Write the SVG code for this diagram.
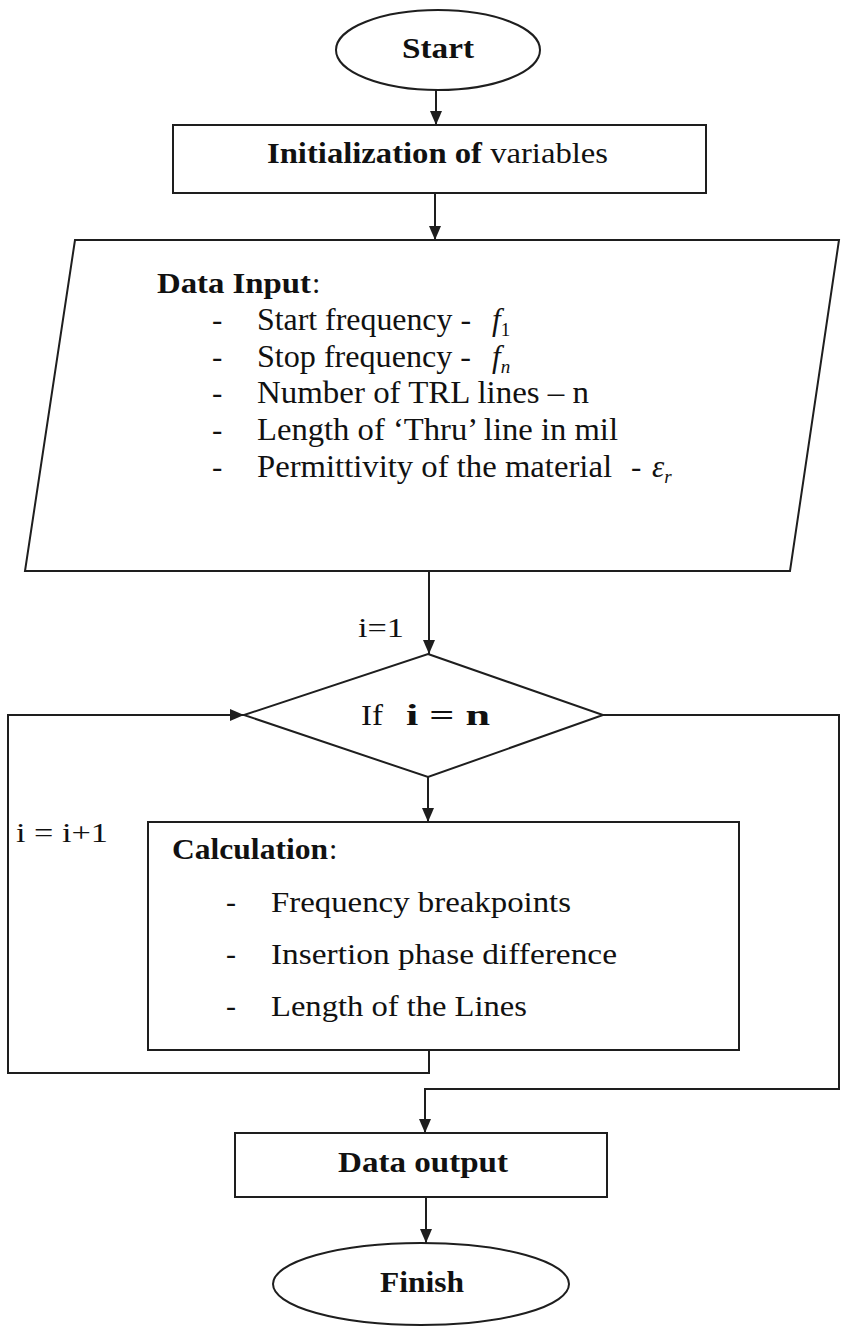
<svg xmlns="http://www.w3.org/2000/svg" width="849" height="1332" viewBox="0 0 849 1332">
  <style>
    .shape { fill: #ffffff; stroke: #1e1e1e; stroke-width: 2; }
    .wire { fill: none; stroke: #1e1e1e; stroke-width: 2; }
    .txt { font-family: "Liberation Serif", "Times New Roman", serif; font-size: 30px; fill: #111111; }
    .sm { font-size: 28px; }
    .md { font-size: 31px; }
    .b { font-weight: bold; }
    .it { font-style: italic; }
  </style>
  <defs>
    <marker id="arrow" markerUnits="userSpaceOnUse" markerWidth="14" markerHeight="14" viewBox="0 0 14 14" refX="14" refY="7" orient="auto">
      <path d="M0,1 L14,7 L0,13 z" fill="#1e1e1e"/>
    </marker>
  </defs>

  <rect width="849" height="1332" fill="#ffffff"/>

  <!-- connectors -->
  <g id="connectors">
    <line class="wire" x1="436" y1="90" x2="436" y2="125" marker-end="url(#arrow)"/>
    <line class="wire" x1="435" y1="193" x2="435" y2="240" marker-end="url(#arrow)"/>
    <line class="wire" x1="429" y1="571" x2="429" y2="654" marker-end="url(#arrow)"/>
    <line class="wire" x1="428" y1="777" x2="428" y2="822" marker-end="url(#arrow)"/>
    <!-- loop back: i = i+1 -->
    <polyline class="wire" points="429,1050 429,1073 8,1073 8,715 244,715" marker-end="url(#arrow)"/>
    <!-- exit when i = n -->
    <polyline class="wire" points="603,715 839,715 839,1089 425,1089 425,1133" marker-end="url(#arrow)"/>
    <line class="wire" x1="426" y1="1197" x2="426" y2="1243" marker-end="url(#arrow)"/>
    <text class="txt sm" x="358" y="637" textLength="46" lengthAdjust="spacingAndGlyphs">i=1</text>
    <text class="txt sm" x="16" y="842" textLength="92" lengthAdjust="spacingAndGlyphs">i = i+1</text>
  </g>

  <!-- start -->
  <g id="start">
    <ellipse class="shape" cx="438" cy="50" rx="102" ry="40"/>
    <text class="txt b" x="402" y="58" textLength="72" lengthAdjust="spacingAndGlyphs">Start</text>
  </g>

  <!-- initialization -->
  <g id="init">
    <rect class="shape" x="173" y="125" width="533" height="68"/>
    <text class="txt" x="267" y="163" textLength="341" lengthAdjust="spacingAndGlyphs"><tspan class="b">Initialization  of</tspan> variables</text>
  </g>

  <!-- data input -->
  <g id="data-input">
    <polygon class="shape" points="75,240 839,240 790,571 25,571"/>
    <text class="txt b" x="157" y="293" textLength="154" lengthAdjust="spacingAndGlyphs">Data Input</text>
    <text class="txt" x="312" y="293">:</text>
    <text class="txt md" x="212" y="330">-</text>
    <text class="txt md" x="257" y="330" textLength="214" lengthAdjust="spacingAndGlyphs">Start frequency -</text>
    <text class="txt md it" x="492" y="330">f<tspan font-size="19" font-style="normal" dy="6">1</tspan></text>
    <text class="txt md" x="212" y="367">-</text>
    <text class="txt md" x="257" y="367" textLength="214" lengthAdjust="spacingAndGlyphs">Stop frequency -</text>
    <text class="txt md it" x="492" y="367">f<tspan font-size="19" dy="6">n</tspan></text>
    <text class="txt md" x="212" y="403">-</text>
    <text class="txt md" x="257" y="403" textLength="332" lengthAdjust="spacingAndGlyphs">Number of TRL lines – n</text>
    <text class="txt md" x="212" y="440">-</text>
    <text class="txt md" x="257" y="440" textLength="361" lengthAdjust="spacingAndGlyphs">Length of ‘Thru’ line in mil</text>
    <text class="txt md" x="212" y="477">-</text>
    <text class="txt md" x="257" y="477" textLength="355" lengthAdjust="spacingAndGlyphs">Permittivity of the material</text>
    <text class="txt md" x="631" y="477">-</text>
    <text class="txt md it" x="652" y="477">ε<tspan font-size="19" dy="6">r</tspan></text>
  </g>

  <!-- decision -->
  <g id="decision">
    <polygon class="shape" points="428,654 603,715 428,777 244,715"/>
    <text class="txt" x="361" y="725" textLength="22" lengthAdjust="spacingAndGlyphs">If</text>
    <text class="txt b" x="406" y="725" textLength="84" lengthAdjust="spacingAndGlyphs">i = n</text>
  </g>

  <!-- calculation -->
  <g id="calculation">
    <rect class="shape" x="148" y="822" width="591" height="228"/>
    <text class="txt b" x="172" y="859" textLength="156" lengthAdjust="spacingAndGlyphs">Calculation</text>
    <text class="txt" x="329" y="859">:</text>
    <text class="txt" x="226" y="912">-</text>
    <text class="txt" x="271" y="912" textLength="300" lengthAdjust="spacingAndGlyphs">Frequency breakpoints</text>
    <text class="txt" x="226" y="964">-</text>
    <text class="txt" x="271" y="964" textLength="346" lengthAdjust="spacingAndGlyphs">Insertion phase difference</text>
    <text class="txt" x="226" y="1016">-</text>
    <text class="txt" x="271" y="1016" textLength="256" lengthAdjust="spacingAndGlyphs">Length of the Lines</text>
  </g>

  <!-- data output -->
  <g id="data-output">
    <rect class="shape" x="235" y="1133" width="372" height="64"/>
    <text class="txt b" x="338" y="1172" textLength="170" lengthAdjust="spacingAndGlyphs">Data output</text>
  </g>

  <!-- finish -->
  <g id="finish">
    <ellipse class="shape" cx="421" cy="1284" rx="148" ry="41"/>
    <text class="txt b" x="380" y="1292" textLength="84" lengthAdjust="spacingAndGlyphs">Finish</text>
  </g>
</svg>
